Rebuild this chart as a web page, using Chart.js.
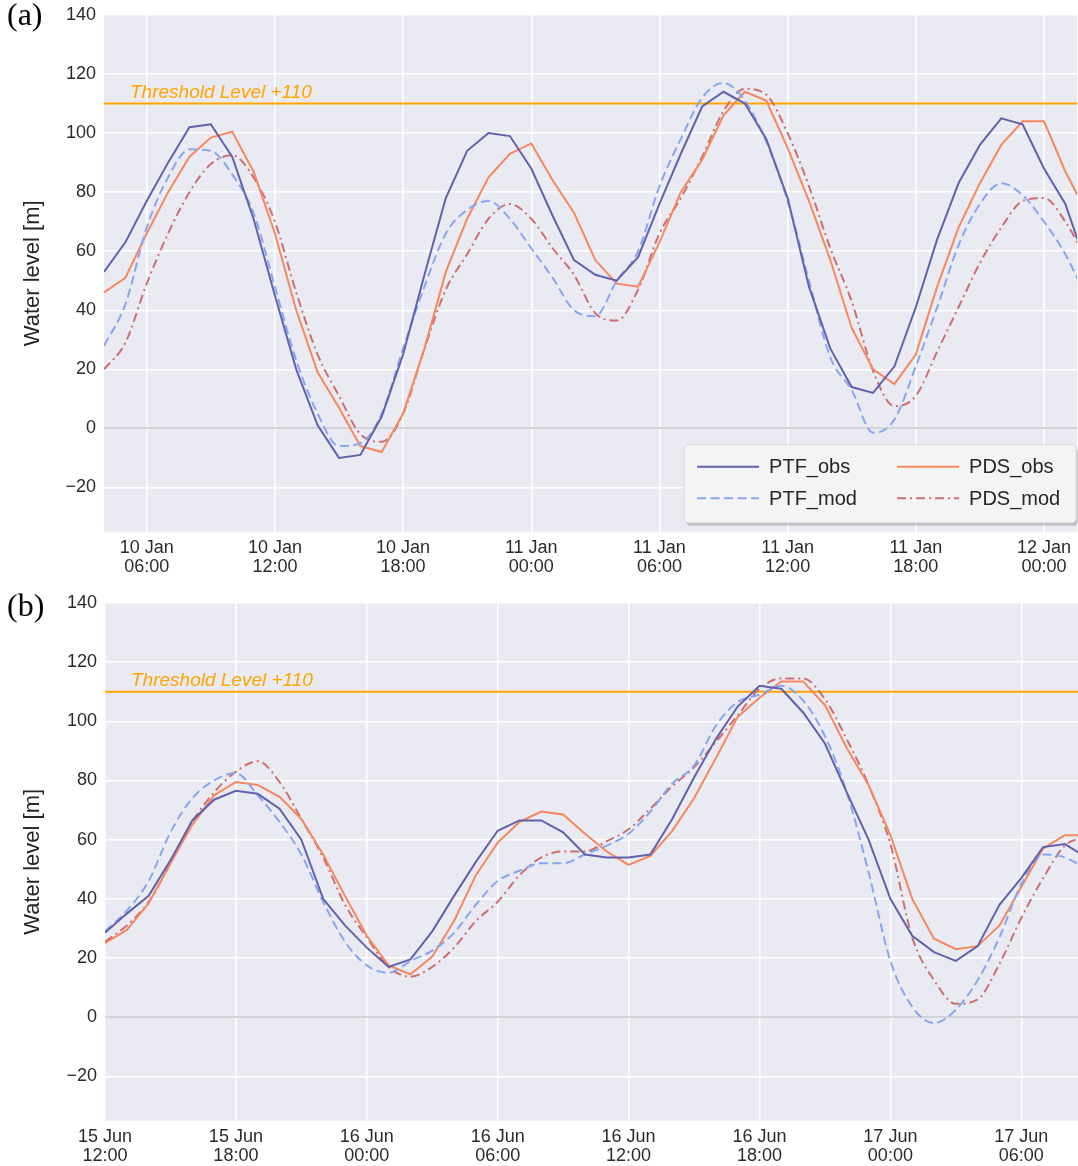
<!DOCTYPE html>
<html>
<head>
<meta charset="utf-8">
<title>Water level</title>
<script src="https://cdn.jsdelivr.net/npm/chart.js@4.4.0/dist/chart.umd.min.js"></script>
<style>
  html, body { margin: 0; padding: 0; background: #fff; }
  #wrap { position: relative; width: 1078px; height: 1166px; overflow: hidden; }
  #panelA { position: absolute; left: 0; top: 0; }
  #panelB { position: absolute; left: 0; top: 590px; }
</style>
</head>
<body>
<div id="wrap">
  <canvas id="panelA" width="1078" height="590"></canvas>
  <canvas id="panelB" width="1078" height="576"></canvas>
</div>
<script>
Chart.defaults.font.family = "'Liberation Sans', Arial, Helvetica, sans-serif";
Chart.defaults.color = "#2b2b2b";

// Panel (a): hours counted from 10 Jan 00:00
const hoursA = [4, 5, 6, 7, 8, 9, 10, 11, 12, 13, 14, 15, 16, 17, 18, 19, 20, 21, 22, 23, 24, 25, 26,
                27, 28, 29, 30, 31, 32, 33, 34, 35, 36, 37, 38, 39, 40, 41, 42, 43, 44, 45, 46, 47, 48, 49, 50];
const ptfObsA = [53, 63, 77, 90, 102, 103, 92, 71, 45, 20, 1, -10, -9, 4, 25, 52, 78, 94, 100, 99, 88, 72, 57,
                 52, 50, 58, 76, 93, 109, 114, 110, 98, 78, 48, 27, 14, 12, 21, 41, 64, 83, 96, 105, 103, 88, 76, 55];
const ptfModA = [28, 42, 68, 85, 94.5, 94, 86, 73, 48, 23, 5, -6, -5, 5, 27, 48, 66, 74, 77, 71, 61, 51, 40,
                 38, 50, 60, 82, 98, 112, 117, 111, 97, 77, 50, 24, 13, -1.5, 3, 21, 41, 62, 76, 83, 79, 70, 59, 44];
const pdsObsA = [46, 51, 66, 80, 92, 98.5, 100.5, 87, 66, 40, 19, 7, -6, -8, 5, 27, 53, 71, 85, 93, 96.5, 84, 73,
                 57, 49, 48, 63, 80, 91, 106, 114, 111, 95, 77, 57, 34, 20, 15, 25, 48, 68, 83, 96, 104, 104, 87, 73];
const pdsModA = [20, 29, 49, 66, 80, 89.5, 92.5, 85, 70, 46, 25, 11, -2, -4.5, 5, 27, 47, 59, 71, 76, 71, 61, 52,
                 39, 36.5, 47, 66, 78, 92, 107.5, 115, 113, 100, 82, 61, 43, 19.5, 7.5, 11, 26, 41, 56, 68, 77, 78, 70, 57];
const xTicksA = [6, 12, 18, 24, 30, 36, 42, 48];
const xLabelsA = [["10 Jan", "06:00"], ["10 Jan", "12:00"], ["10 Jan", "18:00"], ["11 Jan", "00:00"],
                  ["11 Jan", "06:00"], ["11 Jan", "12:00"], ["11 Jan", "18:00"], ["12 Jan", "00:00"]];

// Panel (b): hours counted from 15 Jun 00:00
const hoursB = [12, 13, 14, 15, 16, 17, 18, 19, 20, 21, 22, 23, 24, 25, 26, 27, 28, 29, 30, 31, 32, 33, 34,
                35, 36, 37, 38, 39, 40, 41, 42, 43, 44, 45, 46, 47, 48, 49, 50, 51, 52, 53, 54, 55, 56, 57];
const ptfObsB = [28.5, 35, 41, 53, 66.5, 73.5, 76.5, 75.5, 70.5, 60, 40, 31, 23.5, 17, 19.5, 29, 41, 52.5, 63, 66.5, 66.5, 62.5, 55,
                 54, 54, 55, 67, 81, 94, 105, 112, 111, 103, 92.5, 76, 60, 40, 27.5, 22, 19, 24, 38, 47, 57.5, 58.5, 54];
const ptfModB = [29, 36, 46, 62.5, 74, 80, 82.5, 75, 66, 55, 39, 25.5, 17.5, 15, 19, 22.5, 28.5, 38, 46, 49.5, 52, 52, 55,
                 58, 62, 69.5, 79, 85, 98.5, 106.5, 109, 112, 107, 95, 76, 49, 19, 3.5, -2, 2.5, 12.5, 27, 45, 55, 54, 50];
const pdsObsB = [25, 29.5, 38.5, 52, 65, 75, 79.5, 78.5, 74.5, 67, 55, 41, 27.5, 17.5, 14.5, 20.5, 32.5, 48, 59, 66, 69.5, 68.5, 62,
                 56, 51.5, 54.5, 63, 74, 87.5, 101.5, 108, 113.5, 113.5, 105.5, 91, 78.5, 61.5, 40, 26.5, 23, 24, 31, 44, 57, 61.5, 61.5];
const pdsModB = [25.5, 31, 39, 52, 66, 76, 83, 86.5, 79.5, 67, 54, 38, 27, 17, 13.7, 17, 23.5, 32.5, 39, 48, 54, 56, 56,
                 59.5, 63.5, 70.5, 78, 84.5, 93, 102, 111, 114.5, 114.5, 107.5, 94, 78.5, 58.5, 27, 12.5, 4.5, 6, 18, 33.5, 47, 58, 61];
const xTicksB = [12, 18, 24, 30, 36, 42, 48, 54];
const xLabelsB = [["15 Jun", "12:00"], ["15 Jun", "18:00"], ["16 Jun", "00:00"], ["16 Jun", "06:00"],
                  ["16 Jun", "12:00"], ["16 Jun", "18:00"], ["17 Jun", "00:00"], ["17 Jun", "06:00"]];

const yTicks = [-20, 0, 20, 40, 60, 80, 100, 120, 140];
const threshold = 110;
const thresholdText = "Threshold Level +110";

function pares(xs, ys) {
    return xs.map((x, i) => ({ x: x, y: ys[i] }));
}

// Fondo del area de trazado, texto del umbral, letra del panel y leyenda
const decoPlugin = {
    id: "deco",
    beforeDraw(chart) {
        const a = chart.chartArea;
        const ctx = chart.ctx;
        ctx.save();
        ctx.fillStyle = "#eaeaf2";
        ctx.fillRect(a.left, a.top, a.right - a.left, a.bottom - a.top);
        ctx.restore();
    },
    afterDatasetsDraw(chart, args, opts) {
        const a = chart.chartArea;
        const ctx = chart.ctx;
        const yThr = chart.scales.y.getPixelForValue(threshold);
        ctx.save();
        ctx.fillStyle = "#ffa500";
        ctx.font = "italic 19px 'Liberation Sans', Arial, sans-serif";
        ctx.textBaseline = "alphabetic";
        ctx.fillText(thresholdText, a.left + 26, yThr - 6);

        ctx.fillStyle = "#000";
        ctx.font = "32px 'Liberation Serif', 'Times New Roman', serif";
        ctx.fillText(opts.letter, 7, opts.letterY);

        if (opts.legend) {
            dibujarLeyenda(chart, ctx, a);
        }
        ctx.restore();
    }
};

function dibujarLeyenda(chart, ctx, a) {
    const w = 392, h = 78;
    const left = a.right - w - 1, top = a.bottom - 87;
    ctx.fillStyle = "rgba(0,0,0,0.18)";
    roundRect(ctx, left + 2, top + 3, w, h, 5);
    ctx.fill();
    ctx.fillStyle = "#f4f4f6";
    ctx.strokeStyle = "#dcdcdc";
    ctx.lineWidth = 1;
    roundRect(ctx, left, top, w, h, 5);
    ctx.fill();
    ctx.stroke();

    const items = chart.data.datasets.filter((d) => d.label);
    const pos = [[0, 0], [0, 1], [1, 0], [1, 1]];
    ctx.font = "20px 'Liberation Sans', Arial, sans-serif";
    ctx.textBaseline = "middle";
    items.forEach((d, i) => {
        const col = pos[i][0], row = pos[i][1];
        const x0 = left + 13 + col * 200;
        const y0 = top + 22 + row * 31.5;
        ctx.strokeStyle = d.borderColor;
        ctx.lineWidth = d.borderWidth;
        ctx.setLineDash(d.borderDash || []);
        ctx.beginPath();
        ctx.moveTo(x0, y0);
        ctx.lineTo(x0 + 62, y0);
        ctx.stroke();
        ctx.setLineDash([]);
        ctx.fillStyle = "#262626";
        ctx.fillText(d.label, x0 + 72, y0 + 1);
    });
}

function roundRect(ctx, x, y, w, h, r) {
    ctx.beginPath();
    ctx.moveTo(x + r, y);
    ctx.lineTo(x + w - r, y);
    ctx.quadraticCurveTo(x + w, y, x + w, y + r);
    ctx.lineTo(x + w, y + h - r);
    ctx.quadraticCurveTo(x + w, y + h, x + w - r, y + h);
    ctx.lineTo(x + r, y + h);
    ctx.quadraticCurveTo(x, y + h, x, y + h - r);
    ctx.lineTo(x, y + r);
    ctx.quadraticCurveTo(x, y, x + r, y);
    ctx.closePath();
}

function crearPanel(canvasId, cfg) {
    const datasets = [
        { label: "PTF_obs", data: pares(cfg.hours, cfg.ptfObs), borderColor: "#6161ac", borderWidth: 2, tension: 0 },
        { label: "PTF_mod", data: pares(cfg.hours, cfg.ptfMod), borderColor: "#88a6ef", borderWidth: 2,
          borderDash: [9, 4.5], cubicInterpolationMode: "monotone" },
        { label: "PDS_obs", data: pares(cfg.hours, cfg.pdsObs), borderColor: "#f5885f", borderWidth: 2, tension: 0 },
        { label: "PDS_mod", data: pares(cfg.hours, cfg.pdsMod), borderColor: "#cc6f70", borderWidth: 2,
          borderDash: [9, 4, 2, 4], cubicInterpolationMode: "monotone" },
        { data: [{ x: cfg.xMin, y: threshold }, { x: cfg.xMax, y: threshold }], borderColor: "#ffa500", borderWidth: 2 },
    ];
    datasets.forEach((d) => { d.pointRadius = 0; d.fill = false; });

    return new Chart(document.getElementById(canvasId), {
        type: "line",
        data: { datasets: datasets },
        options: {
            responsive: false,
            animation: false,
            events: [],
            layout: { padding: { top: cfg.padTop, left: 0, right: 0, bottom: 0 } },
            plugins: {
                legend: { display: false },
                tooltip: { enabled: false },
                deco: { letter: cfg.letter, letterY: cfg.letterY, legend: cfg.legend },
            },
            scales: {
                x: {
                    type: "linear",
                    min: cfg.xMin,
                    max: cfg.xMax,
                    afterBuildTicks: (scale) => { scale.ticks = cfg.xTicks.map((v) => ({ value: v })); },
                    afterFit: (scale) => { scale.height = cfg.xAxisHeight; },
                    grid: { color: "#ffffff", lineWidth: 1.5, drawTicks: false },
                    border: { display: false },
                    ticks: {
                        autoSkip: false,
                        maxRotation: 0,
                        padding: 7,
                        font: { size: 18, lineHeight: 1.05 },
                        callback: (v) => cfg.xLabels[cfg.xTicks.indexOf(v)],
                    },
                },
                y: {
                    min: -35,
                    max: 140,
                    afterBuildTicks: (scale) => { scale.ticks = yTicks.map((v) => ({ value: v })); },
                    afterFit: (scale) => {
                        scale.width = cfg.yAxisWidth;
                        scale.paddingTop = 0;
                        scale.paddingBottom = 0;
                    },
                    grid: {
                        color: (c) => (c.tick && c.tick.value === 0 ? "#d3d3da" : "#ffffff"),
                        lineWidth: (c) => (c.tick && c.tick.value === 0 ? 2 : 1.5),
                        drawTicks: false,
                    },
                    border: { display: false },
                    ticks: {
                        padding: 8,
                        font: { size: 18 },
                        callback: (v) => (v < 0 ? "\u2212" + Math.abs(v) : String(v)),
                    },
                    title: {
                        display: true,
                        text: "Water level [m]",
                        font: { size: 22 },
                        color: "#262626",
                        padding: { top: 20, bottom: 0 },
                    },
                },
            },
        },
        plugins: [decoPlugin],
    });
}

crearPanel("panelA", {
    hours: hoursA, ptfObs: ptfObsA, ptfMod: ptfModA, pdsObs: pdsObsA, pdsMod: pdsModA,
    xMin: 4, xMax: 49.55, xTicks: xTicksA, xLabels: xLabelsA,
    padTop: 15, xAxisHeight: 58.3, yAxisWidth: 104,
    letter: "(a)", letterY: 25, legend: true,
});

crearPanel("panelB", {
    hours: hoursB, ptfObs: ptfObsB, ptfMod: ptfModB, pdsObs: pdsObsB, pdsMod: pdsModB,
    xMin: 12, xMax: 56.6, xTicks: xTicksB, xLabels: xLabelsB,
    padTop: 13, xAxisHeight: 45.3, yAxisWidth: 105,
    letter: "(b)", letterY: 26, legend: false,
});
</script>
</body>
</html>
